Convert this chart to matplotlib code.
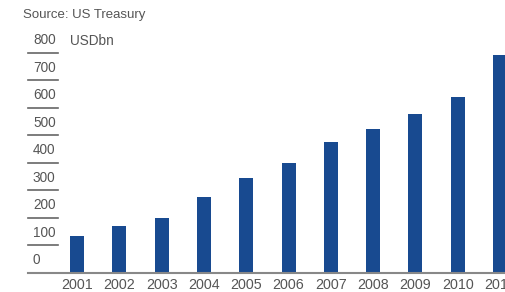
import matplotlib
matplotlib.use("Agg")
import matplotlib.pyplot as plt
import matplotlib.transforms as mtransforms

years = ["2001", "2002", "2003", "2004", "2005", "2006",
         "2007", "2008", "2009", "2010", "2011"]
values = [133, 170, 199, 275, 344, 399, 475, 523, 577, 639, 792]
y_ticks = [0, 100, 200, 300, 400, 500, 600, 700, 800]

plt.rcParams['font.family'] = ['Liberation Sans', 'DejaVu Sans']

W, H = 506, 292
fig = plt.figure(figsize=(W / 100, H / 100), dpi=100)
left_px, base_px, top_px = 28, 272.7, 52.7
ax = fig.add_axes([left_px / W, 1 - base_px / H, 1 - left_px / W, (base_px - top_px) / H])

x = list(range(len(years)))
ax.bar(x, values, width=0.33, color="#184a90", zorder=2)
ax.set_xlim(-1.16, 10.14)
ax.set_ylim(0, 800)

for s in ["top", "right", "left"]:
    ax.spines[s].set_visible(False)
ax.spines["bottom"].set_color("#888888")
ax.spines["bottom"].set_linewidth(1.5)

ax.set_yticks([])
ax.set_xticks(x)
ax.set_xticklabels(years, fontsize=10.3, color="#555555")
ax.tick_params(axis="x", length=0, pad=3.5)

# y labels with short rules underneath
trans = mtransforms.blended_transform_factory(ax.transAxes, ax.transData)
line_end = (58 - left_px) / (W - left_px)
lab_x = (33 - left_px) / (W - left_px)
for v in y_ticks:
    if v > 0:
        ax.plot([0, line_end], [v, v], transform=trans, color="#666666",
                lw=1.2, clip_on=False, zorder=1)
    ax.text(lab_x, v + 45, str(v), transform=trans, fontsize=9.8,
            color="#555555", ha="left", va="center")

fig.text(70 / W, 1 - 41 / H, "USDbn", fontsize=9.8, color="#555555",
         ha="left", va="center")
fig.text(23 / W, 1 - 15 / H, "Source: US Treasury", fontsize=9.5,
         color="#555555", ha="left", va="center")

fig.savefig("out.png", dpi=100)
